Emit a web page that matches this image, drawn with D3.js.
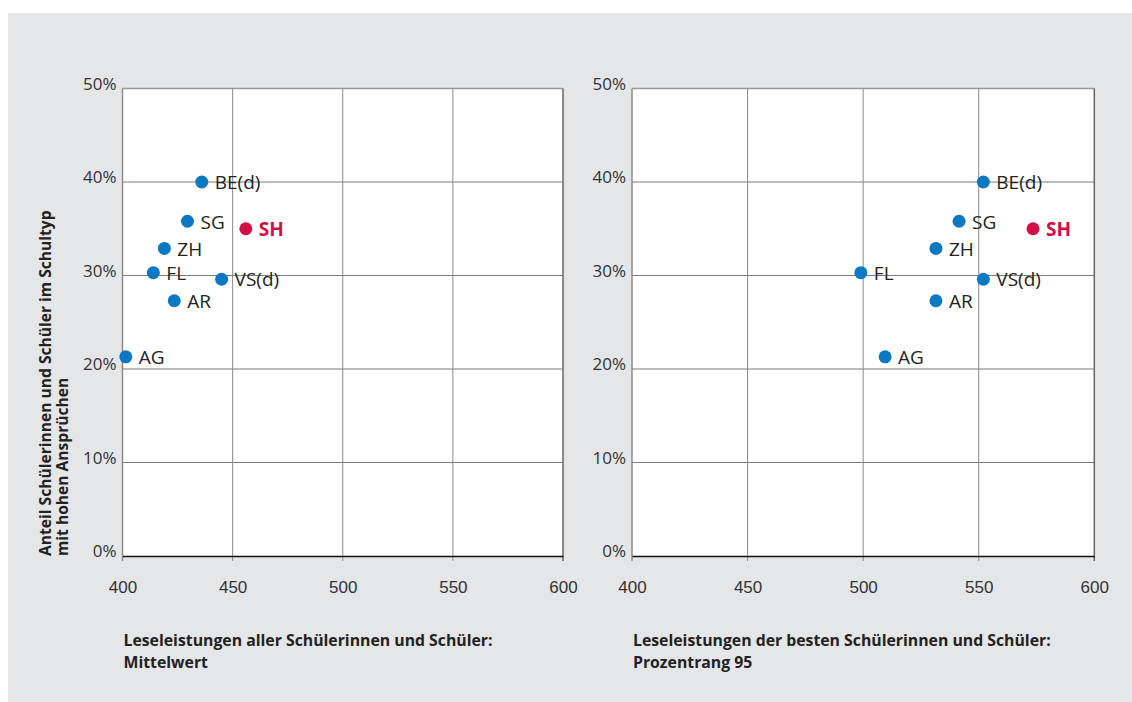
<!DOCTYPE html>
<html>
<head>
<meta charset="utf-8">
<script src="https://cdn.jsdelivr.net/npm/d3@7"></script>
<style>
  body { margin: 0; background: #fff; }
  svg { display: block; font-family: "Open Sans", "Noto Sans", sans-serif; }
  .tick text { fill: #333; }
</style>
</head>
<body>
<svg id="chart" width="1132" height="702"></svg>
<script>
// values
const cantons   = ["BE(d)", "SG", "SH", "ZH", "FL", "VS(d)", "AR", "AG"]
const shareHigh = [40.0, 35.8, 35.0, 32.9, 30.3, 29.6, 27.3, 21.3]   // % in school type with high demands
const meanScore = [436, 429.5, 456, 419, 414, 445, 423.5, 401.5]     // mean reading score
const p95Score  = [552, 541.5, 573.5, 531.5, 499, 552, 531.5, 509.5] // 95th percentile
const xTicks = [400, 450, 500, 550, 600]
const yTicks = [0, 10, 20, 30, 40, 50]
const highlight = "SH"

const panels = [
    {scores: meanScore, left: 122.5, right: 563, title: ["Leseleistungen aller Schülerinnen und Schüler:", "Mittelwert"]},
    {scores: p95Score, left: 632, right: 1094.3, title: ["Leseleistungen der besten Schülerinnen und Schüler:", "Prozentrang 95"]}
]
const plotTop = 88.5, plotBottom = 556

const svg = d3.select("#chart")

svg.append("rect")
    .attr("x", 8).attr("y", 13)
    .attr("width", 1124).attr("height", 689)
    .attr("fill", "#e5e6e8")

panels.forEach(p => {
    const fx = d3.scaleLinear().domain([400, 600]).range([p.left, p.right])
    const fy = d3.scaleLinear().domain([0, 50]).range([plotBottom, plotTop])
    const g = svg.append("g")

    g.append("rect")
        .attr("x", p.left).attr("y", plotTop)
        .attr("width", p.right - p.left).attr("height", plotBottom - plotTop)
        .attr("fill", "#fff")

    // gridlines
    g.append("g").selectAll("line")
        .data(yTicks.slice(1))
        .join("line")
        .attr("x1", p.left).attr("x2", p.right)
        .attr("y1", d => fy(d)).attr("y2", d => fy(d))
        .attr("stroke", d => d == 50 ? "#999" : "#7a7a7a")
        .attr("stroke-width", d => d == 50 ? 1.5 : 1)
    g.append("g").selectAll("line")
        .data(xTicks)
        .join("line")
        .attr("x1", d => fx(d)).attr("x2", d => fx(d))
        .attr("y1", plotTop).attr("y2", plotBottom + 5)
        .attr("stroke", d => d == 600 ? "#666" : "#8a8a8a")
        .attr("stroke-width", d => d == 400 || d == 600 ? 1.5 : 1)

    // bottom axis
    const xAxis = g.append("g")
        .attr("transform", "translate(0," + plotBottom + ")")
        .call(d3.axisBottom(fx).tickValues(xTicks).tickSize(0).tickPadding(25))
    xAxis.select(".domain").attr("stroke", "#111").attr("stroke-width", 1.5)
    xAxis.selectAll("text").attr("font-size", 17).attr("font-family", "inherit")

    // y tick labels
    g.append("g").selectAll("text")
        .data(yTicks)
        .join("text")
        .attr("x", p.left - 6)
        .attr("y", d => fy(d) + 1)
        .attr("text-anchor", "end")
        .attr("font-size", 17)
        .attr("fill", "#333")
        .text(d => d + "%")

    // points
    const pts = g.append("g").selectAll("g")
        .data(cantons.map((c, i) => ({c: c, x: p.scores[i], y: shareHigh[i]})))
        .join("g")
        .attr("transform", d => "translate(" + fx(d.x) + "," + fy(d.y) + ")")
    pts.append("circle")
        .attr("r", 6.5)
        .attr("fill", d => d.c == highlight ? "#d20f45" : "#0a78c2")
    pts.append("text")
        .attr("x", 13)
        .attr("dy", "0.38em")
        .attr("font-size", 19)
        .attr("font-weight", d => d.c == highlight ? "bold" : "normal")
        .attr("fill", d => d.c == highlight ? "#d20f45" : "#222")
        .text(d => d.c)

    // x title
    g.append("text")
        .attr("font-size", 15.8)
        .attr("font-weight", "bold")
        .attr("fill", "#222")
        .selectAll("tspan")
        .data(p.title)
        .join("tspan")
        .attr("x", p.left + 1)
        .attr("y", (d, i) => 646 + i * 22)
        .text(d => d)
})

// y title
svg.append("text")
    .attr("transform", "translate(51,556) rotate(-90)")
    .attr("font-size", 15.6)
    .attr("font-weight", "bold")
    .attr("fill", "#222")
    .selectAll("tspan")
    .data(["Anteil Schülerinnen und Schüler im Schultyp", "mit hohen Ansprüchen"])
    .join("tspan")
    .attr("x", 0)
    .attr("y", (d, i) => i * 16.5)
    .text(d => d)
</script>
</body>
</html>
